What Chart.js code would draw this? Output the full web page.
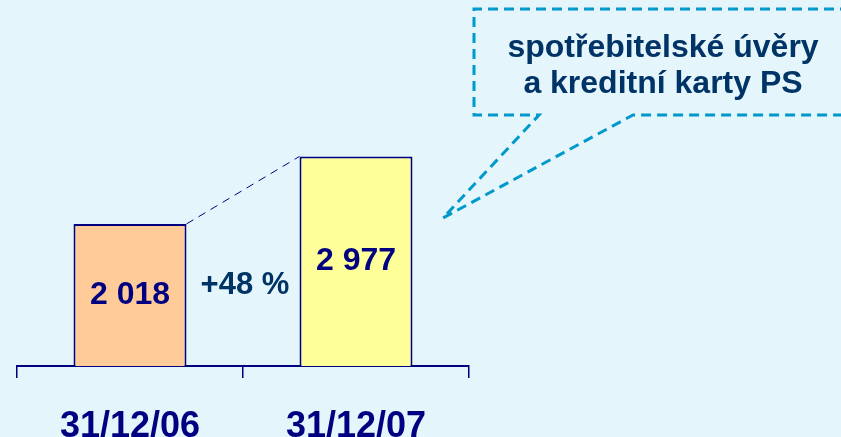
<!DOCTYPE html>
<html>
<head>
<meta charset="utf-8">
<script src="https://cdn.jsdelivr.net/npm/chart.js@4"></script>
<style>
  html, body { margin: 0; padding: 0; background: #E5F5FC; }
  #wrap { width: 841px; height: 437px; }
</style>
</head>
<body>
<div id="wrap"><canvas id="graf"></canvas></div>
<script>
const kategorie = ['31/12/06', '31/12/07'];
const hodnoty = [2018, 2977];
const barvy = ['#FFCC99', '#FFFF99'];
const popisek = ['spotřebitelské úvěry', 'a kreditní karty PS'];

const FONT = 'Arial, "Liberation Sans", sans-serif';
const NAVY = '#000080';
const TMAVA = '#003366';
const MODRA = '#0099CC';

function formatCislo(v) {
    return String(v).replace(/\B(?=(\d{3})+(?!\d))/g, ' ');
}

// hodnoty uvnitr sloupcu, prirustek a spojnice
const popiskyPlugin = {
    id: 'popisky',
    afterDatasetsDraw(chart) {
        const ctx = chart.ctx;
        const meta = chart.getDatasetMeta(0);
        const y = chart.scales.y;
        const b0 = meta.data[0], b1 = meta.data[1];

        ctx.save();
        // spojnice mezi vrcholy
        ctx.strokeStyle = NAVY;
        ctx.lineWidth = 1;
        ctx.setLineDash([8, 6]);
        ctx.beginPath();
        ctx.moveTo(b0.x + b0.width / 2, b0.y);
        ctx.lineTo(b1.x - b1.width / 2, b1.y);
        ctx.stroke();
        ctx.setLineDash([]);

        ctx.font = 'bold 32px ' + FONT;
        ctx.textAlign = 'center';
        ctx.textBaseline = 'middle';
        ctx.fillStyle = NAVY;
        meta.data.forEach((bar, i) => {
            ctx.fillText(formatCislo(hodnoty[i]), bar.x, (bar.y + bar.base) / 2);
        });

        const narust = Math.round((hodnoty[1] / hodnoty[0] - 1) * 100);
        ctx.font = 'bold 31px ' + FONT;
        ctx.fillStyle = TMAVA;
        ctx.fillText('+' + narust + ' %', (b0.x + b1.x) / 2 + 2, y.getPixelForValue(1150));
        ctx.restore();
    }
};

// bublina s popisem
const bublinaPlugin = {
    id: 'bublina',
    afterDraw(chart) {
        const ctx = chart.ctx;
        ctx.save();
        ctx.strokeStyle = MODRA;
        ctx.lineWidth = 3;
        ctx.setLineDash([10, 6]);
        ctx.beginPath();
        ctx.moveTo(850, 9);
        ctx.lineTo(474, 9);
        ctx.lineTo(474, 115);
        ctx.lineTo(539, 115);
        ctx.lineTo(443, 218);
        ctx.lineTo(633, 115);
        ctx.lineTo(850, 115);
        ctx.stroke();
        ctx.setLineDash([]);

        ctx.fillStyle = TMAVA;
        ctx.font = 'bold 32px ' + FONT;
        ctx.textAlign = 'center';
        ctx.textBaseline = 'alphabetic';
        ctx.fillText(popisek[0], 663, 57);
        ctx.fillText(popisek[1], 663, 93);
        ctx.restore();
    }
};

new Chart(document.getElementById('graf'), {
    type: 'bar',
    data: {
        labels: kategorie,
        datasets: [{
            data: hodnoty,
            backgroundColor: barvy,
            borderColor: NAVY,
            borderWidth: 2,
            barPercentage: 0.5,
            categoryPercentage: 1
        }]
    },
    options: {
        responsive: true,
        maintainAspectRatio: false,
        animation: false,
        layout: { padding: { left: 17, right: 372, top: 14, bottom: 0 } },
        plugins: {
            legend: { display: false },
            tooltip: { enabled: false }
        },
        scales: {
            x: {
                afterFit(scale) { scale.height = 71; },
                grid: {
                    display: true,
                    offset: true,
                    drawOnChartArea: false,
                    drawTicks: true,
                    tickLength: 12,
                    color: NAVY,
                    lineWidth: 1.5
                },
                border: { display: true, color: NAVY, width: 2 },
                ticks: {
                    color: NAVY,
                    padding: 27,
                    font: { family: FONT, size: 36, weight: 'bold' }
                }
            },
            y: {
                display: false,
                min: 0,
                max: 5000
            }
        }
    },
    plugins: [popiskyPlugin, bublinaPlugin]
});
</script>
</body>
</html>
